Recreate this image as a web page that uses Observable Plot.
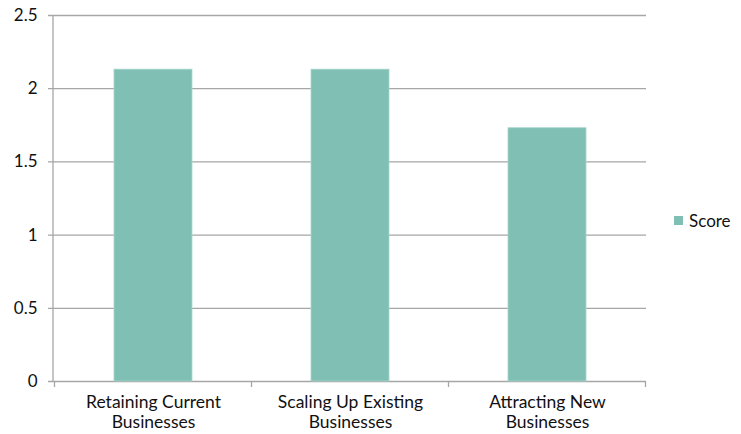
<!DOCTYPE html>
<html>
<head>
<meta charset="utf-8">
<script src="https://cdn.jsdelivr.net/npm/d3@7"></script>
<script src="https://cdn.jsdelivr.net/npm/@observablehq/plot@0.6"></script>
<style>
  html, body { margin: 0; padding: 0; background: #fff; }
  #wrap { position: relative; width: 741px; height: 434px; font-family: Lato, "Noto Sans", sans-serif; }
  #legend { position: absolute; left: 674px; top: 210px; display: flex; align-items: center; font-size: 17px; color: #111; }
  #legend .sw { width: 9px; height: 9px; background: #80bfb4; margin-right: 6px; }
</style>
</head>
<body>
<div id="wrap">
  <div id="chart"></div>
  <div id="legend"><span class="sw"></span><span>Score</span></div>
</div>
<script>
// Scores per growth strategy
const categories = ["Retaining Current\nBusinesses", "Scaling Up Existing\nBusinesses", "Attracting New\nBusinesses"];
const scores = [2.13, 2.13, 1.73];
const yTicks = [0, 0.5, 1, 1.5, 2, 2.5];
const yTickLabels = ["0", "0.5", "1", "1.5", "2", "2.5"];

const data = categories.map((c, i) => ({category: c, score: scores[i]}));
const gridColor = "#a6a6a6";

// Left axis line plus tick marks at the borders between categories
function axisLines(index, scales, values, dimensions) {
  const x = scales.x;
  const bw = typeof x.bandwidth === "function" ? x.bandwidth() : x.bandwidth;
  const step = typeof x.step === "function" ? x.step() : (scales.scales && scales.scales.x && scales.scales.x.step) || bw;
  const pad = (step - bw) / 2;
  const y0 = dimensions.height - dimensions.marginBottom;
  const xs = [];
  categories.forEach((c, i) => {
    const left = x(c) - pad;
    if (i === 0) xs.push(left);
    xs.push(left + step);
  });
  const g = d3.create("svg:g").attr("stroke", gridColor).attr("stroke-width", 1.3);
  g.selectAll("line.b").data(xs).join("line").attr("class", "b")
    .attr("x1", d => d).attr("x2", d => d)
    .attr("y1", y0).attr("y2", y0 + 6);
  g.append("line")
    .attr("x1", dimensions.marginLeft).attr("x2", dimensions.marginLeft)
    .attr("y1", scales.y(2.5)).attr("y2", y0);
  return g.node();
}

const chart = Plot.plot({
  width: 741,
  height: 434,
  marginLeft: 53,
  marginRight: 95,
  marginTop: 15,
  marginBottom: 53,
  style: {fontFamily: "Lato, 'Noto Sans', sans-serif", fontSize: "17px", color: "#111", background: "#fff"},
  x: {domain: categories, paddingInner: 0.605, paddingOuter: 0.3025, align: 0.5, label: null},
  y: {domain: [0, 2.5], label: null},
  marks: [
    Plot.ruleY(yTicks, {y: d => d, stroke: gridColor, strokeWidth: 1.3, insetLeft: -5}),
    Plot.barY(data, {x: "category", y: "score", fill: "#80bfb4", stroke: "#a9d6ce", strokeWidth: 0.8}),
    Plot.axisY(yTicks, {tickSize: 0, tickPadding: 16, tickFormat: (d, i) => yTickLabels[i], fontSize: 17, label: null}),
    Plot.axisX({tickSize: 0, tickPadding: 13, lineHeight: 1.12, fontSize: 17.5, label: null}),
    axisLines
  ]
});

document.getElementById("chart").appendChild(chart);
</script>
</body>
</html>
